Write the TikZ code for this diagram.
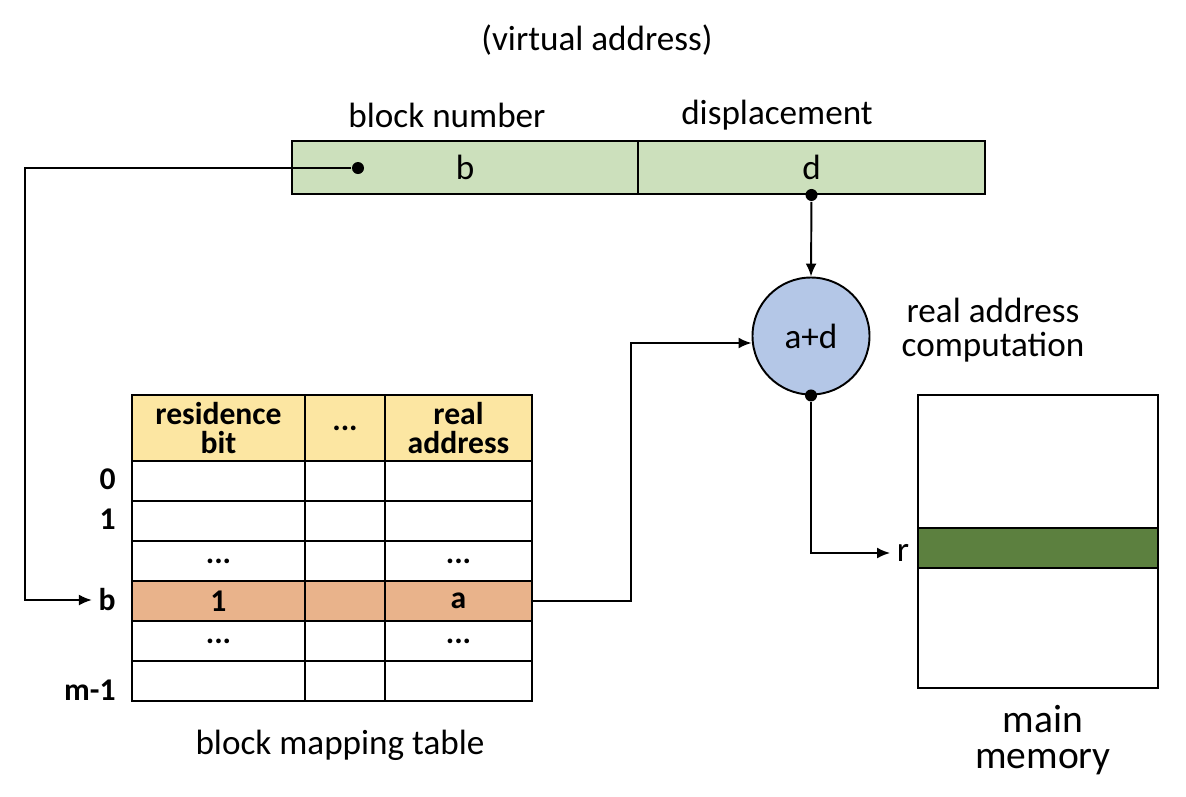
\documentclass[tikz,border=0pt]{standalone}
\usepackage{fontspec}
\setmainfont{Carlito}
\usetikzlibrary{arrows.meta, positioning, calc}
\definecolor{vgreen}{HTML}{CCE0BC}
\definecolor{hyellow}{HTML}{FCE6A2}
\definecolor{horange}{HTML}{E9B38B}
\definecolor{cblue}{HTML}{B4C7E7}
\definecolor{mgreen}{HTML}{5C803F}
\newcommand{\dts}{...}
\tikzset{
  every picture/.style={line width=1.1pt},
  field/.style={draw, fill=vgreen, minimum height=1.06cm, minimum width=6.93cm, font=\fontsize{20}{22}\selectfont, inner sep=0pt},
  cell/.style={draw, fill=#1, minimum height=0.8cm, inner sep=0pt, font=\bfseries\fontsize{18}{17}\selectfont, align=center},
  cell/.default=white,
  rowlbl/.style={anchor=east, font=\bfseries\fontsize{18}{17}\selectfont},
  label/.style={font=\fontsize{20}{19}\selectfont, align=center},
  arrow/.style={-{Latex[length=2.6mm, width=2.2mm]}},
  dot/.style={circle, fill, inner sep=0pt, minimum size=0.24cm},
}
\begin{document}
\begin{tikzpicture}
  \useasboundingbox (0,0) rectangle (23.72,-15.92);
  % virtual address
  \node[label] (va) at (11.94,-0.80) {(virtual address)};
  \node[field] (fb) at (9.30,-3.35) {b};
  \node[field] (fd) at (16.23,-3.35) {d};
  \node[label] (bn) at (8.94,-2.30) {block number};
  \node[label] (dp) at (15.54,-2.30) {displacement};
  \node[dot] (db) at (7.16,-3.36) {};
  \node[dot] (dd) at (fd.south) {};

  % address computation
  \node[draw, circle, fill=cblue, minimum size=2.34cm, inner sep=0pt, font=\fontsize{20}{22}\selectfont] (sum) at (16.22,-6.72) {a+d};
  \node[dot] (ds) at (sum.south) {};
  \node[label] (rac) at (19.86,-6.60) {real address\\computation};

  % block mapping table
  \node[cell=hyellow, minimum width=3.46cm, minimum height=1.32cm] (h1) at (4.37,-8.56) {residence\\bit};
  \node[cell=hyellow, minimum width=1.60cm, minimum height=1.32cm] (h2) at (6.90,-8.56) {\dts};
  \node[cell=hyellow, minimum width=2.94cm, minimum height=1.32cm] (h3) at (9.17,-8.56) {real\\address};
  \foreach \i/\bg/\ta/\tc in {0/white/{}/{}, 1/white/{}/{}, 2/white/\dts/\dts, 3/horange/1/a, 4/white/\dts/\dts, 5/white/{}/{}} {
    \node[cell=\bg, minimum width=3.46cm] (r\i-1) at (4.37,{-9.62-0.8*\i}) {\ta};
    \node[cell=\bg, minimum width=1.60cm] (r\i-2) at (6.90,{-9.62-0.8*\i}) {};
    \node[cell=\bg, minimum width=2.94cm] (r\i-3) at (9.17,{-9.62-0.8*\i}) {\tc};
  }
  \node[rowlbl] (l0) at (2.45,-9.58) {0};
  \node[rowlbl] (l1) at (2.45,-10.38) {1};
  \node[rowlbl] (lb) at (2.45,-12.00) {b};
  \node[rowlbl] (lm) at (2.45,-13.80) {m-1};
  \node[label] (bmt) at (6.80,-14.90) {block mapping table};

  % main memory
  \node[draw, minimum width=4.80cm, minimum height=5.86cm, inner sep=0pt] (mem) at (20.76,-10.83) {};
  \node[draw, fill=mgreen, minimum width=4.80cm, minimum height=0.80cm, inner sep=0pt] (blk) at (20.76,-10.96) {};
  \node[font=\fontsize{20}{19}\selectfont] (r) at (18.06,-11.06) {r};
  \node[label, font=\fontsize{22.5}{20.5}\selectfont] (mm) at (20.86,-14.80) {main\\memory};

  % connectors
  \draw[arrow] (db) -- (0.50,-3.36) |- (lb.west);
  \draw[arrow] (dd) -- (sum.north);
  \draw[arrow] (r3-3.east) -- ++(1.96,0) |- ($(sum.west)+(0,-0.14)$);
  \draw[arrow] (ds) |- (r.west);
\end{tikzpicture}
\end{document}
